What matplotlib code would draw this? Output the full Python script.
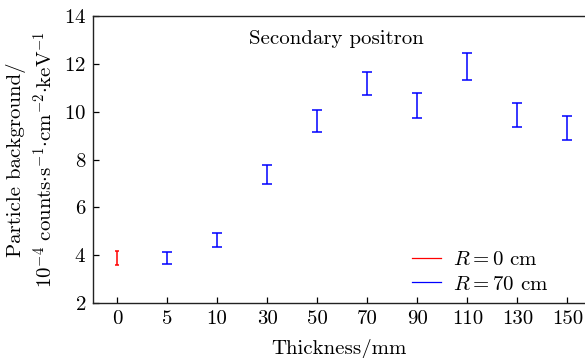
import matplotlib
matplotlib.use("Agg")
import matplotlib.pyplot as plt
import numpy as np

plt.rcParams["font.family"] = "serif"
plt.rcParams["font.serif"] = ["cmr10"]
plt.rcParams["mathtext.fontset"] = "cm"
plt.rcParams["axes.formatter.use_mathtext"] = True

thickness = ["0", "5", "10", "30", "50", "70", "90", "110", "130", "150"]
r0_mean = [3.88]
r0_err = [0.28]
r70_mean = [3.88, 4.63, 7.37, 9.64, 11.19, 10.27, 11.90, 9.87, 9.33]
r70_err = [0.27, 0.30, 0.40, 0.46, 0.49, 0.53, 0.57, 0.52, 0.51]

x = np.arange(len(thickness))
FS = 15

fig = plt.figure(figsize=(5.85, 3.58), dpi=100)
ax = fig.add_axes([0.159, 0.154, 0.841, 0.800])

ax.errorbar(x[:1], r0_mean, yerr=r0_err, fmt="none", ecolor="red",
            elinewidth=1.1, capsize=1.2, capthick=1.1)
ax.errorbar(x[1:], r70_mean, yerr=r70_err, fmt="none", ecolor="blue",
            elinewidth=1.1, capsize=3.3, capthick=1.1)

ax.plot([], [], color="red", lw=0.9, label=r"$R=0$ cm")
ax.plot([], [], color="blue", lw=0.9, label=r"$R=70$ cm")
ax.legend(frameon=False, loc="center left", bbox_to_anchor=(0.648, 0.108),
          borderpad=0, borderaxespad=0, fontsize=FS, handlelength=1.4,
          handletextpad=0.6, labelspacing=0.3)

ax.set_xlim(-0.48, 9.35)
ax.set_ylim(2, 14)
ax.set_xticks(x)
ax.set_xticklabels(thickness)
ax.set_yticks(np.arange(2, 15, 2))
ax.tick_params(direction="in", length=4, width=0.9, labelsize=FS, pad=5)
ax.spines["right"].set_visible(False)
for s in ["left", "bottom", "top"]:
    ax.spines[s].set_linewidth(1.0)
    ax.spines[s].set_color("#222222")

ax.text(0.494, 0.923, "Secondary positron", transform=ax.transAxes,
        fontsize=FS, ha="center", va="center")
ax.set_xlabel("Thickness/mm", fontsize=FS, labelpad=8)
ax.set_ylabel("Particle background/\n"
              r"$10^{-4}\ \mathrm{counts}{\cdot}\mathrm{s}^{-1}{\cdot}"
              r"\mathrm{cm}^{-2}{\cdot}\mathrm{keV}^{-1}$",
              fontsize=FS, labelpad=5, linespacing=1.35)

fig.savefig("out.png", dpi=100)
